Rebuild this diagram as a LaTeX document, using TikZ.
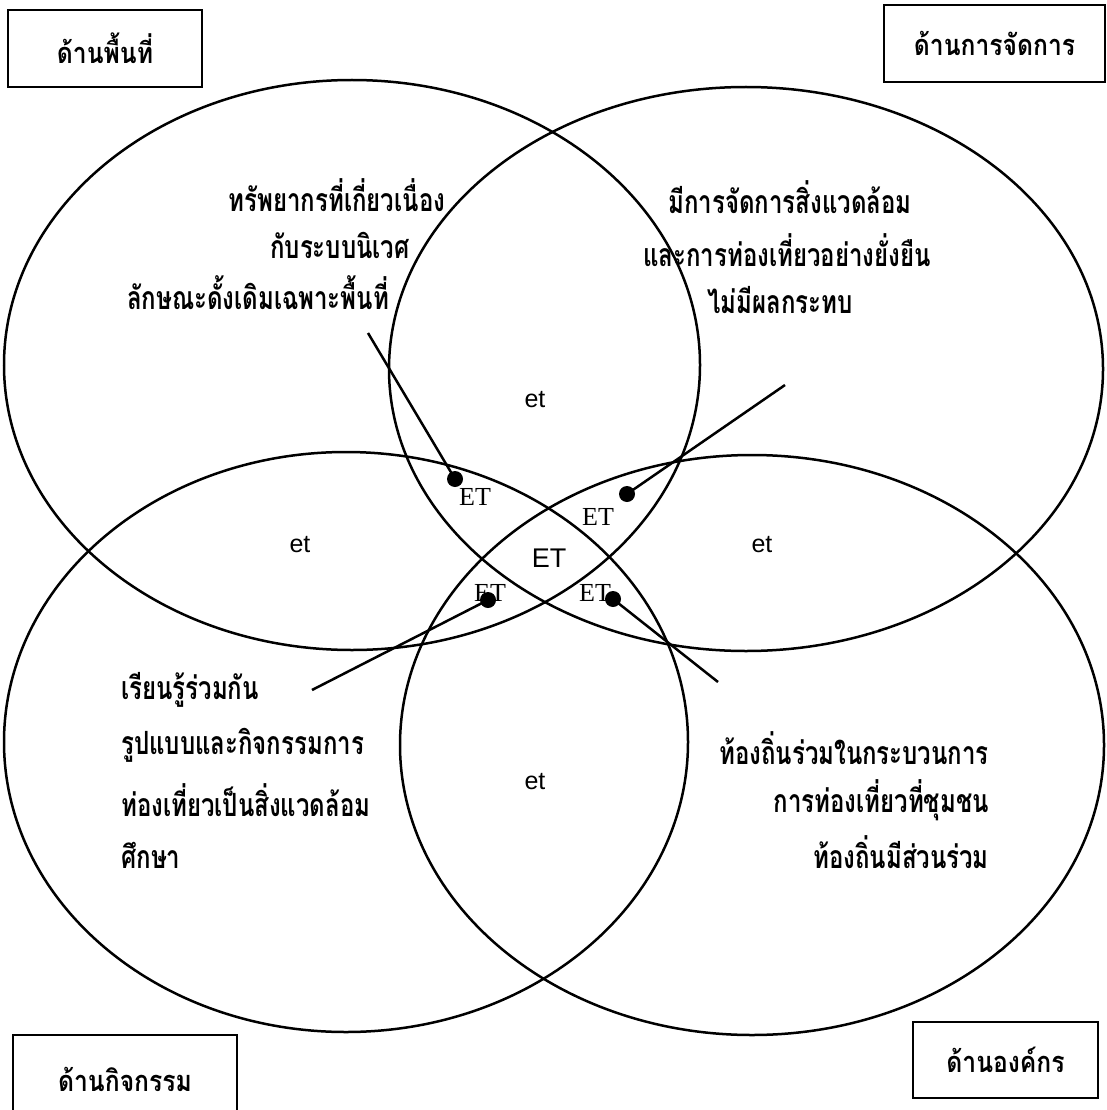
\documentclass[tikz,border=0pt]{standalone}
\usepackage{fontspec}
\newfontfamily\thaifont[Script=Thai,FakeStretch=0.75]{Loma}
\newfontfamily\thaibox[Script=Thai,FakeStretch=0.85]{Loma}
\newfontfamily\arialf{Liberation Sans}
\newfontfamily\timesf{Liberation Serif}
\begin{document}
\begin{tikzpicture}[x=1pt,y=-1pt,line width=2.5pt,
  thai/.style={font=\thaifont\bfseries\fontsize{32}{36}\selectfont,inner sep=0pt},
  boxlbl/.style={draw,line width=2pt,inner sep=0pt,font=\thaibox\bfseries\fontsize{29}{32}\selectfont},
  small/.style={font=\arialf\fontsize{25}{27}\selectfont,inner sep=0pt},
  tet/.style={font=\timesf\fontsize{26}{28}\selectfont,inner sep=0pt},
  cet/.style={font=\arialf\fontsize{27}{29}\selectfont,inner sep=0pt},
  dot/.style={circle,fill=black,inner sep=0pt,minimum size=16pt}]
\useasboundingbox (0,0) rectangle (1107,1110);
\fill[white] (0,0) rectangle (1107,1110);
% ellipses
\draw (352,365) ellipse [x radius=348pt, y radius=285pt];
\draw (746,369) ellipse [x radius=357pt, y radius=282pt];
\draw (346,742) ellipse [x radius=342pt, y radius=290pt];
\draw (752,745) ellipse [x radius=352pt, y radius=290pt];
% boxes
\node[boxlbl,minimum width=194pt,minimum height=77pt] (bTL) at (105,48.5) {ด้านพื้นที่};
\node[boxlbl,minimum width=221pt,minimum height=77pt] (bTR) at (994.5,43.5) {ด้านการจัดการ};
\node[boxlbl,minimum width=224pt,minimum height=88pt] (bBL) at (125,1079) {ด้านกิจกรรม};
\node[boxlbl,minimum width=185pt,minimum height=76pt] (bBR) at (1005.5,1060) {ด้านองค์กร};
% texts
\node[thai] (tl1) at (337,195) {ทรัพยากรที่เกี่ยวเนื่อง};
\node[thai] (tl2) at (340,245) {กับระบบนิเวศ};
\node[thai] (tl3) at (258,293) {ลักษณะดั้งเดิมเฉพาะพื้นที่};
\node[thai] (tr1) at (790,197) {มีการจัดการสิ่งแวดล้อม};
\node[thai] (tr2) at (787,250) {และการท่องเที่ยวอย่างยั่งยืน};
\node[thai] (tr3) at (780,300) {ไม่มีผลกระทบ};
\node[thai,anchor=west] (bl1) at (120,690) {เรียนรู้ร่วมกัน};
\node[thai,anchor=west] (bl2) at (120,745) {รูปแบบและกิจกรรมการ};
\node[thai,anchor=west] (bl3) at (120,800) {ท่องเที่ยวเป็นสิ่งแวดล้อม};
\node[thai,anchor=west] (bl4) at (120,855) {ศึกษา};
\node[thai,anchor=east] (br1) at (990,748) {ท้องถิ่นร่วมในกระบวนการ};
\node[thai,anchor=east] (br2) at (990,800) {การท่องเที่ยวที่ชุมชน};
\node[thai,anchor=east] (br3) at (990,852) {ท้องถิ่นมีส่วนร่วม};
% et labels
\node[small] (e1) at (300,545) {et};
\node[small] (e2) at (535,400) {et};
\node[small] (e3) at (762,545) {et};
\node[small] (e4) at (535,782) {et};
\node[tet] (t1) at (475,497) {ET};
\node[tet] (t2) at (598,517) {ET};
\node[tet] (t3) at (490,593) {ET};
\node[tet] (t4) at (595,593) {ET};
\node[cet] (tc) at (549,558) {ET};
% pointers
\node[dot] (d1) at (455,479) {};
\node[dot] (d2) at (627,494) {};
\node[dot] (d3) at (488,600) {};
\node[dot] (d4) at (613,599) {};
\coordinate (p1) at (368,333);
\coordinate (p2) at (785,385);
\coordinate (p3) at (312,690);
\coordinate (p4) at (718,682);
\draw (p1) -- (d1.center);
\draw (p2) -- (d2.center);
\draw (p3) -- (d3.center);
\draw (p4) -- (d4.center);
\end{tikzpicture}
\end{document}
